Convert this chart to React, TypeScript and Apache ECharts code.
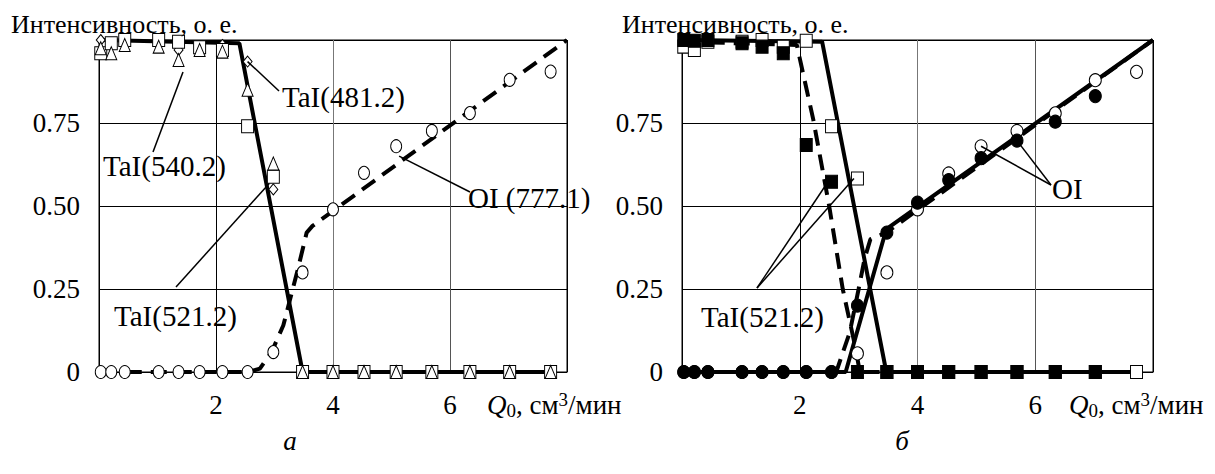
import React, { useEffect, useRef } from "react";
import * as echarts from "echarts";

// Gas flow rate, cm3/min (shared by both panels)
const flowRate = [0.03, 0.21, 0.44, 1.02, 1.36, 1.72, 2.11, 2.54, 2.98, 3.48, 4.0, 4.53, 5.08, 5.69, 6.34, 7.02, 7.72];

// Panel а: measured intensities
const oi777 = [0, 0, 0, 0, 0, 0, 0, 0, 0.06, 0.3, 0.49, 0.6, 0.68, 0.726, 0.78, 0.88, 0.905];
const tai521 = [0.96, 0.99, 1.0, 1.0, 0.995, 0.978, 0.97, 0.74, 0.588, 0, 0, 0, 0, 0, 0, 0, 0];
const tai540 = [0.975, 0.96, 0.985, 0.98, 0.94, 0.97, 0.965, 0.85, 0.628, 0, 0, 0, 0, 0, 0, 0, 0];
const tai481 = [1.0, 0.99, 0.99, 0.99, 0.97, 0.98, 0.985, 0.935, 0.55, 0, 0, 0, 0, 0, 0, 0, 0];

// Panel а: trend curves
const taTrendAX = [0.03, 2.4, 3.48, 7.74];
const taTrendAY = [1.0, 0.99, 0, 0];
const oiTrendAX = [0.03, 2.55, 2.75, 2.95, 3.15, 3.4, 3.55, 3.65, 8];
const oiTrendAY = [0, 0, 0.01, 0.06, 0.14, 0.31, 0.42, 0.44, 1.0];

// Panel б: measured intensities (filled / open markers)
const taiFilled = [1.0, 0.998, 1.0, 0.99, 0.98, 0.96, 0.684, 0.573, 0, 0, 0, 0, 0, 0, 0, 0, null];
const taiOpen = [0.98, 0.97, 0.995, 0.995, 1.0, 0.98, 0.998, 0.74, 0.583, 0, 0, 0, 0, 0, 0, 0, 0];
const oiFilled = [0, 0, 0, 0, 0, 0, 0, 0, 0.2, 0.42, 0.51, 0.578, 0.644, 0.697, 0.754, 0.831, null];
const oiOpen = [0, 0, 0, 0, 0, 0, 0, 0, 0.056, 0.3, 0.49, 0.598, 0.68, 0.726, 0.779, 0.879, 0.904];

// Panel б: trend curves
const taSolidBX = [0.03, 2.38, 3.47, 7.72];
const taSolidBY = [1.0, 0.995, 0, 0];
const taDashBX = [0.03, 1.95, 2.23, 2.5, 2.73, 2.95, 3.02, 7.72];
const taDashBY = [0.995, 0.985, 0.76, 0.5, 0.25, 0.07, 0, 0];
const oiSolidBX = [0.03, 2.78, 3.47, 8];
const oiSolidBY = [0, 0, 0.43, 1.0];
const oiDashBX = [0.03, 2.62, 2.85, 3.0, 3.1, 3.2, 3.47, 8];
const oiDashBY = [0, 0, 0.12, 0.25, 0.34, 0.4, 0.42, 1.0];

const yTickLabels: Record<string, string> = { "0": "0", "0.25": "0.25", "0.5": "0.50", "0.75": "0.75" };

const FONT = "Liberation Serif";

const zip = (xs: number[], ys: (number | null)[]) =>
  xs.map((x, i) => [x, ys[i]]).filter((p) => p[1] !== null && p[1] !== undefined);

const makeXAxis = (gridIndex: number) => ({
  type: "value",
  gridIndex,
  min: 0,
  max: 8,
  interval: 2,
  axisLine: { show: true, lineStyle: { color: "#000", width: 1 } },
  axisTick: { show: false },
  axisLabel: {
    formatter: (v: number) => (v === 0 || v === 8 ? "" : String(v)),
    fontFamily: FONT,
    fontSize: 27,
    color: "#000",
    margin: 19,
  },
  splitLine: {
    show: true,
    lineStyle: { color: ["#000", "#000", "#777", "#555", "#000"], width: 1 },
  },
});

const makeYAxis = (gridIndex: number) => ({
  type: "value",
  gridIndex,
  min: 0,
  max: 1,
  interval: 0.25,
  axisLine: { show: true, lineStyle: { color: "#000", width: 1 } },
  axisTick: { show: false },
  axisLabel: {
    formatter: (v: number) => yTickLabels[String(v)] ?? "",
    fontFamily: FONT,
    fontSize: 27,
    color: "#000",
    margin: 19,
  },
  splitLine: { show: true, lineStyle: { color: "#000", width: 1 } },
});

const trend = (g: number, xs: number[], ys: number[], dashed: boolean) => ({
  type: "line",
  xAxisIndex: g,
  yAxisIndex: g,
  data: zip(xs, ys),
  showSymbol: false,
  symbol: "none",
  lineStyle: { color: "#000", width: 4, type: dashed ? [16, 9] : "solid" },
  z: 3,
});

const markers = (
  g: number,
  ys: (number | null)[],
  symbol: string,
  size: number | number[],
  filled: boolean,
  z = 5
) => ({
  type: "scatter",
  xAxisIndex: g,
  yAxisIndex: g,
  data: zip(flowRate, ys),
  symbol,
  symbolSize: size,
  itemStyle: {
    color: filled ? "#000" : "#fff",
    borderColor: "#000",
    borderWidth: 1,
    opacity: 1,
  },
  z,
});

const axisTitle = (left: number) => ({
  type: "text",
  left,
  top: 390,
  style: {
    text: "{q|Q}{sub|0}{n|, см}{sup|3}{n|/мин}",
    rich: {
      q: { fontFamily: FONT, fontStyle: "italic", fontSize: 27, lineHeight: 30, verticalAlign: "middle" },
      sub: { fontFamily: FONT, fontSize: 19, lineHeight: 30, verticalAlign: "bottom" },
      n: { fontFamily: FONT, fontSize: 27, lineHeight: 30, verticalAlign: "middle" },
      sup: { fontFamily: FONT, fontSize: 19, lineHeight: 30, verticalAlign: "top" },
    },
    fill: "#000",
  },
});

const label = (text: string, x: number, y: number, size = 29) => ({
  type: "text",
  x,
  y,
  style: {
    text,
    fontFamily: FONT,
    fontSize: size,
    fill: "#000",
    textVerticalAlign: "middle",
    textAlign: "left",
  },
  z: 20,
});

export default function App() {
  const ref = useRef<HTMLDivElement>(null);

  useEffect(() => {
    if (!ref.current) return;
    const chart = echarts.init(ref.current, null, { renderer: "svg" });

    const option: any = {
      animation: false,
      backgroundColor: "#fff",
      textStyle: { fontFamily: FONT },
      grid: [
        { left: 99, top: 40, width: 468, height: 332, show: true, borderColor: "#000", borderWidth: 1, backgroundColor: "transparent" },
        { left: 682, top: 40, width: 471, height: 332, show: true, borderColor: "#000", borderWidth: 1, backgroundColor: "transparent" },
      ],
      xAxis: [makeXAxis(0), makeXAxis(1)],
      yAxis: [makeYAxis(0), makeYAxis(1)],
      series: [
        // panel а
        trend(0, oiTrendAX, oiTrendAY, true),
        trend(0, taTrendAX, taTrendAY, false),
        markers(0, tai481, "diamond", [9, 11], false, 4),
        markers(0, tai521, "rect", [12, 13], false, 5),
        markers(0, tai540, "triangle", [11, 13], false, 6),
        markers(0, oi777, "circle", [11, 13], false, 8),
        // panel б
        trend(1, taSolidBX, taSolidBY, false),
        trend(1, taDashBX, taDashBY, true),
        trend(1, oiSolidBX, oiSolidBY, false),
        trend(1, oiDashBX, oiDashBY, true),
        markers(1, taiOpen, "rect", [12, 13], false, 5),
        markers(1, taiFilled, "rect", [12, 13], true, 6),
        markers(1, oiOpen, "circle", [12, 13], false, 7),
        markers(1, oiFilled, "circle", [12, 13], true, 8),
      ],
    };
    chart.setOption(option);

    const px = (g: number, x: number, y: number) =>
      chart.convertToPixel({ xAxisIndex: g, yAxisIndex: g }, [x, y]) as number[];
    const leader = (from: number[], to: number[]) => ({
      type: "line",
      shape: { x1: from[0], y1: from[1], x2: to[0], y2: to[1] },
      style: { stroke: "#000", lineWidth: 1.5 },
      z: 19,
    });

    const graphic: any[] = [
      label("Интенсивность, о. е.", 11, 24, 26),
      label("Интенсивность, о. е.", 622, 24, 26),
      axisTitle(487),
      axisTitle(1069),
      {
        type: "text",
        x: 290,
        y: 441,
        style: { text: "а", fontFamily: FONT, fontStyle: "italic", fontSize: 27, fill: "#000", textAlign: "center", textVerticalAlign: "middle" },
      },
      {
        type: "text",
        x: 902,
        y: 441,
        style: { text: "б", fontFamily: FONT, fontStyle: "italic", fontSize: 27, fill: "#000", textAlign: "center", textVerticalAlign: "middle" },
      },
      // panel а annotations
      leader(px(0, flowRate[7], tai481[7]), [279, 91]),
      label("TaI(481.2)", 282, 97),
      leader([183, 72], [153, 152]),
      label("TaI(540.2)", 103, 166),
      leader([176, 287], px(0, flowRate[8] - 0.07, tai521[8] - 0.02)),
      label("TaI(521.2)", 114, 316),
      leader(px(0, flowRate[12] + 0.05, oi777[12] - 0.03), [470, 192]),
      label("OI (777.1)", 468, 198),
      // panel б annotations
      leader([757, 288], px(1, flowRate[7] - 0.06, taiFilled[7] as number)),
      leader([757, 288], px(1, flowRate[8] - 0.06, taiOpen[8])),
      label("TaI(521.2)", 701, 317),
      leader([1051, 185], px(1, flowRate[12], oiOpen[12])),
      leader([1051, 185], px(1, flowRate[13], oiFilled[13] as number)),
      label("OI", 1052, 189),
    ];
    chart.setOption({ graphic });

    return () => chart.dispose();
  }, []);

  return (
    <div
      ref={ref}
      style={{ position: "absolute", left: 0, top: 0, width: 1215, height: 474, background: "#fff" }}
    />
  );
}
